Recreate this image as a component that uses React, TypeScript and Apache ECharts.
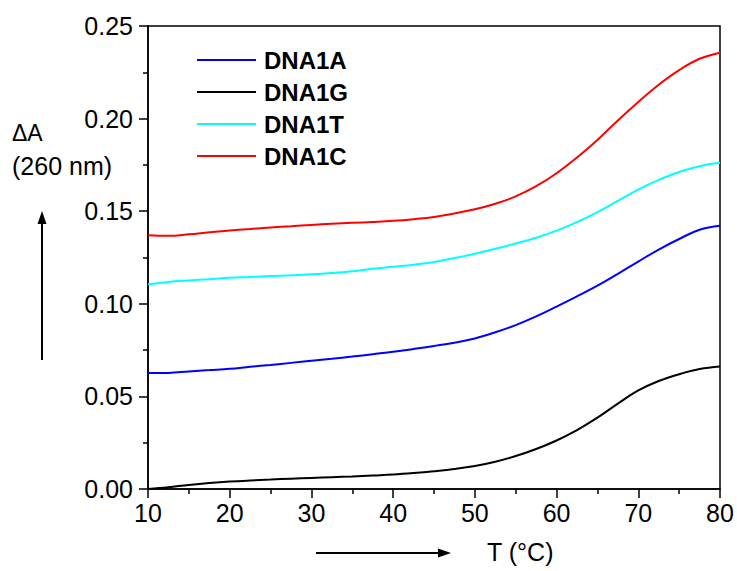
import React, { useEffect, useRef } from "react";
import * as echarts from "echarts";

// Temperature grid (°C)
const temps = [
  10, 12.5, 15, 17.5, 20, 22.5, 25, 27.5, 30, 32.5, 35, 37.5, 40, 42.5, 45, 47.5,
  50, 52.5, 55, 57.5, 60, 62.5, 65, 67.5, 70, 72.5, 75, 77.5, 80,
];

// ΔA at 260 nm for each duplex
const dna1A = [
  0.0626, 0.0627, 0.0635, 0.0642, 0.0649, 0.066, 0.067, 0.0681, 0.0692, 0.0703,
  0.0715, 0.0728, 0.0741, 0.0756, 0.0772, 0.079, 0.0813, 0.0846, 0.0885, 0.0932,
  0.0985, 0.104, 0.1098, 0.1162, 0.1228, 0.1293, 0.135, 0.14, 0.1421,
];
const dna1G = [
  0.0, 0.001, 0.0022, 0.0032, 0.004, 0.0046, 0.0051, 0.0056, 0.006, 0.0064,
  0.0068, 0.0073, 0.0078, 0.0086, 0.0096, 0.0108, 0.0124, 0.0147, 0.0178, 0.0216,
  0.0262, 0.0318, 0.0385, 0.0461, 0.0532, 0.0583, 0.062, 0.0648, 0.0662,
];
const dna1T = [
  0.1105, 0.1118, 0.1126, 0.1133, 0.114, 0.1145, 0.115, 0.1154, 0.1159, 0.1166,
  0.1176, 0.1189, 0.12, 0.1211, 0.1226, 0.1247, 0.127, 0.1297, 0.1326, 0.1357,
  0.1395, 0.1441, 0.1495, 0.1556, 0.1617, 0.1669, 0.1712, 0.1743, 0.1761,
];
const dna1C = [
  0.137, 0.1367, 0.1375, 0.1386, 0.1396, 0.1404, 0.1412, 0.1419, 0.1426, 0.1432,
  0.1437, 0.1442, 0.1448, 0.1457, 0.1469, 0.1488, 0.151, 0.154, 0.158, 0.1635,
  0.1705, 0.179, 0.1885, 0.199, 0.209, 0.2183, 0.2262, 0.2323, 0.2356,
];

const seriesNames = ["DNA1A", "DNA1G", "DNA1T", "DNA1C"];
const seriesColors = ["#0000ff", "#000000", "#00ffff", "#ff0000"];
const seriesValues = [dna1A, dna1G, dna1T, dna1C];

const FONT = "'Liberation Sans', Arial, sans-serif";

export default function App() {
  const ref = useRef<HTMLDivElement>(null);

  useEffect(() => {
    if (!ref.current) return;
    const chart = echarts.init(ref.current, undefined, { renderer: "svg" });

    const series = seriesNames.map((name, i) => ({
      name,
      type: "line",
      symbol: "none",
      smooth: 0.4,
      data: temps.map((t, k) => [t, seriesValues[i][k]]),
      lineStyle: { color: seriesColors[i], width: 2 },
      itemStyle: { color: seriesColors[i] },
      z: 3,
    }));

    chart.setOption({
      animation: false,
      backgroundColor: "#ffffff",
      textStyle: { fontFamily: FONT },
      grid: {
        left: 148,
        right: 17,
        top: 26,
        bottom: 82,
        show: true,
        borderColor: "#000",
        borderWidth: 1.5,
      },
      legend: {
        orient: "vertical",
        left: 197,
        top: 48,
        padding: 0,
        itemWidth: 59,
        itemHeight: 2,
        itemGap: 8,
        icon: "rect",
        selectedMode: false,
        data: seriesNames.map((n, i) => ({
          name: n,
          itemStyle: { color: seriesColors[i] },
        })),
        textStyle: {
          fontFamily: FONT,
          fontSize: 24,
          fontWeight: "bold",
          color: "#000",
          lineHeight: 24,
          padding: [0, 0, 0, 3],
        },
      },
      xAxis: {
        type: "value",
        min: 10,
        max: 80,
        interval: 10,
        splitLine: { show: false },
        axisLine: { lineStyle: { color: "#000", width: 1.5 } },
        axisTick: { length: 9, lineStyle: { color: "#000", width: 1.5 } },
        minorTick: { show: true, splitNumber: 2, length: 5, lineStyle: { color: "#000", width: 1.5 } },
        axisLabel: { color: "#000", fontSize: 25, margin: 11, fontFamily: FONT },
      },
      yAxis: {
        type: "value",
        min: 0,
        max: 0.25,
        interval: 0.05,
        splitLine: { show: false },
        axisLine: { lineStyle: { color: "#000", width: 1.5 } },
        axisTick: { length: 9, lineStyle: { color: "#000", width: 1.5 } },
        minorTick: { show: true, splitNumber: 2, length: 5, lineStyle: { color: "#000", width: 1.5 } },
        axisLabel: {
          color: "#000",
          fontSize: 25,
          margin: 15,
          fontFamily: FONT,
          formatter: (v: number) => v.toFixed(2),
        },
      },
      graphic: [
        { type: "text", left: 12, top: 121, style: { text: "ΔA", font: `23px ${FONT}`, fill: "#000" } },
        { type: "text", left: 12, top: 153, style: { text: "(260 nm)", font: `25px ${FONT}`, fill: "#000" } },
        // vertical arrow
        { type: "line", shape: { x1: 42, y1: 360, x2: 42, y2: 220 }, style: { stroke: "#000", lineWidth: 2 } },
        { type: "polygon", shape: { points: [[42, 211], [37.5, 224], [46.5, 224]] }, style: { fill: "#000" } },
        // horizontal arrow
        { type: "line", shape: { x1: 316, y1: 553, x2: 442, y2: 553 }, style: { stroke: "#000", lineWidth: 2 } },
        { type: "polygon", shape: { points: [[451, 553], [438, 548.5], [438, 557.5]] }, style: { fill: "#000" } },
        { type: "text", left: 487, top: 539, style: { text: "T (°C)", font: `25px ${FONT}`, fill: "#000" } },
      ],
      series,
    });

    return () => chart.dispose();
  }, []);

  return (
    <div
      ref={ref}
      style={{ position: "fixed", left: 0, top: 0, width: 737, height: 571 }}
    />
  );
}
